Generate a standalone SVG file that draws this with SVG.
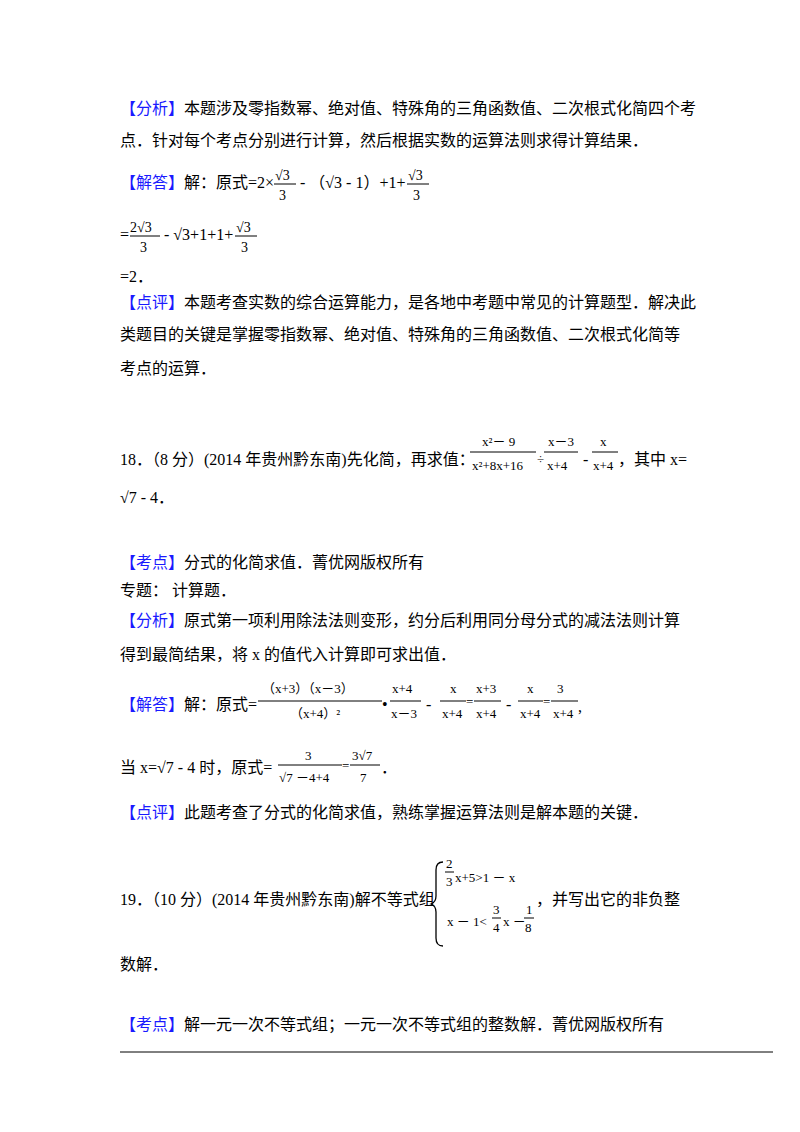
<svg xmlns="http://www.w3.org/2000/svg" width="800" height="1132" viewBox="0 0 800 1132">
<style>
text{font-family:"Liberation Serif","Noto Sans CJK SC",serif;font-size:16px;fill:#000}
.b{fill:#1a1aff}
.s{font-size:14px}
.f{font-size:13px}
line{stroke:#000;stroke-width:1}
</style>
<rect width="800" height="1132" fill="#fff"/>
<text x="120" y="114"><tspan class="b">【分析】</tspan>本题涉及零指数幂、绝对值、特殊角的三角函数值、二次根式化简四个考</text>
<text x="120" y="146">点．针对每个考点分别进行计算，然后根据实数的运算法则求得计算结果．</text>
<text x="120" y="188"><tspan class="b">【解答】</tspan>解：原式=2×</text>
<text x="275" y="180" class="s">√3</text><line x1="274" y1="184" x2="296" y2="184"/><text x="279" y="200" class="s">3</text>
<text x="300" y="188">-  （√3 - 1）+1+</text>
<text x="408" y="180" class="s">√3</text><line x1="407" y1="184" x2="429" y2="184"/><text x="413" y="200" class="s">3</text>
<text x="120" y="240">=</text>
<text x="130" y="232" class="s">2√3</text><line x1="130" y1="236" x2="160" y2="236"/><text x="140" y="252" class="s">3</text>
<text x="164" y="240">- √3+1+1+</text>
<text x="236" y="232" class="s">√3</text><line x1="235" y1="236" x2="257" y2="236"/><text x="241" y="252" class="s">3</text>
<text x="120" y="282">=2．</text>
<text x="120" y="308"><tspan class="b">【点评】</tspan>本题考查实数的综合运算能力，是各地中考题中常见的计算题型．解决此</text>
<text x="120" y="340">类题目的关键是掌握零指数幂、绝对值、特殊角的三角函数值、二次根式化简等</text>
<text x="120" y="374">考点的运算．</text>
<text x="120" y="465">18．（8 分）(2014 年贵州黔东南)先化简，再求值：</text>
<text x="482" y="446" class="f">x²－ 9</text><line x1="470" y1="452" x2="536" y2="452"/><text x="472" y="470" class="f">x²+8x+16</text>
<text x="537" y="463" class="f">÷</text>
<text x="548" y="446" class="f">x－3</text><line x1="544" y1="452" x2="578" y2="452"/><text x="547" y="470" class="f">x+4</text>
<text x="583" y="465">-</text>
<text x="600" y="446" class="f">x</text><line x1="592" y1="452" x2="618" y2="452"/><text x="593" y="470" class="f">x+4</text>
<text x="618" y="465">，其中 x=</text>
<text x="120" y="503">√7 - 4．</text>
<text x="120" y="568"><tspan class="b">【考点】</tspan>分式的化简求值．菁优网版权所有</text>
<text x="120" y="596">专题：  计算题．</text>
<text x="120" y="626"><tspan class="b">【分析】</tspan>原式第一项利用除法法则变形，约分后利用同分母分式的减法法则计算</text>
<text x="120" y="660">得到最简结果，将 x 的值代入计算即可求出值．</text>
<text x="120" y="710"><tspan class="b">【解答】</tspan>解：原式=</text>
<text x="262" y="693" class="f">（x+3）（x－3）</text><line x1="258" y1="701" x2="382" y2="701"/><text x="290" y="718" class="f">（x+4）²</text>
<text x="382" y="710">•</text>
<text x="392" y="693" class="f">x+4</text><line x1="390" y1="701" x2="421" y2="701"/><text x="391" y="718" class="f">x－3</text>
<text x="426" y="710">-</text>
<text x="450" y="693" class="f">x</text><line x1="440" y1="701" x2="466" y2="701"/><text x="442" y="718" class="f">x+4</text>
<text x="466" y="706" class="f">=</text>
<text x="476" y="693" class="f">x+3</text><line x1="474" y1="701" x2="501" y2="701"/><text x="476" y="718" class="f">x+4</text>
<text x="506" y="710">-</text>
<text x="527" y="693" class="f">x</text><line x1="518" y1="701" x2="543" y2="701"/><text x="520" y="718" class="f">x+4</text>
<text x="543" y="706" class="f">=</text>
<text x="557" y="693" class="f">3</text><line x1="551" y1="701" x2="578" y2="701"/><text x="553" y="718" class="f">x+4</text>
<text x="578" y="712">,</text>
<text x="120" y="773">当 x=√7 - 4 时，原式=</text>
<text x="305" y="760" class="f">3</text><line x1="278" y1="765" x2="342" y2="765"/><text x="279" y="782" class="f">√7 －4+4</text>
<text x="342" y="770" class="f">=</text>
<text x="352" y="760" class="f">3√7</text><line x1="350" y1="765" x2="380" y2="765"/><text x="360" y="782" class="f">7</text>
<text x="381" y="773">．</text>
<text x="120" y="818"><tspan class="b">【点评】</tspan>此题考查了分式的化简求值，熟练掌握运算法则是解本题的关键．</text>
<text x="120" y="905">19．（10 分）(2014 年贵州黔东南)解不等式组</text>
<g transform="translate(6,0)">
<path d="M437,862 Q430,862 430,870 L430,896 Q430,902 425,904 Q430,906 430,912 L430,938 Q430,946 437,946" fill="none" stroke="#000" stroke-width="1.3"/>
<text x="440" y="868" class="f">2</text><line x1="439" y1="872" x2="448" y2="872"/><text x="440" y="886" class="f">3</text>
<text x="449" y="882" class="f">x+5&gt;1 － x</text>
<text x="441" y="926" class="f">x － 1&lt;</text>
<text x="487" y="914" class="f">3</text><line x1="486" y1="918" x2="495" y2="918"/><text x="487" y="932" class="f">4</text>
<text x="497" y="926" class="f">x －</text>
<text x="520" y="914" class="f">1</text><line x1="518" y1="918" x2="528" y2="918"/><text x="519" y="932" class="f">8</text>
</g>
<text x="536" y="905">，并写出它的非负整</text>
<text x="120" y="970">数解．</text>
<text x="120" y="1030"><tspan class="b">【考点】</tspan>解一元一次不等式组；一元一次不等式组的整数解．菁优网版权所有</text>
<line x1="120" y1="1052" x2="773" y2="1052"/>
</svg>
